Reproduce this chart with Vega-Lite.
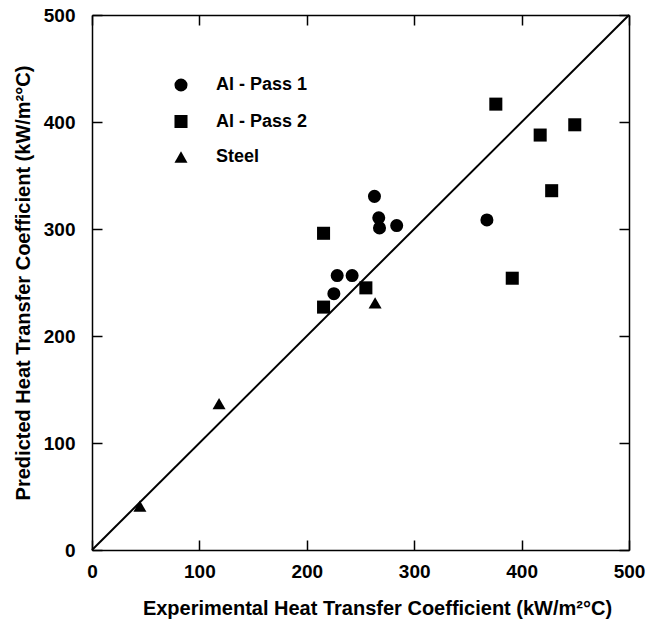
{
  "$schema": "https://vega.github.io/schema/vega-lite/v6.json",
  "width": 537,
  "height": 535,
  "autosize": "none",
  "padding": {"left": 92, "top": 15, "right": 21, "bottom": 82},
  "background": "white",
  "config": {
    "view": {"stroke": null},
    "axis": {
      "domainColor": "black",
      "domainWidth": 1.5,
      "tickColor": "black",
      "tickWidth": 1.5,
      "tickSize": -10,
      "grid": false,
      "labelFlush": false,
      "labelFont": "Liberation Sans",
      "labelFontWeight": "bold",
      "labelFontSize": 19,
      "labelColor": "black",
      "titleFont": "Liberation Sans",
      "titleFontWeight": "bold",
      "titleFontSize": 20,
      "titleColor": "black"
    }
  },
  "datasets": {
    "points": [
      {"series": "Al - Pass 1", "exp": 263, "pred": 330.5},
      {"series": "Al - Pass 1", "exp": 267, "pred": 310.4},
      {"series": "Al - Pass 1", "exp": 267.7, "pred": 301},
      {"series": "Al - Pass 1", "exp": 283.7, "pred": 303.2},
      {"series": "Al - Pass 1", "exp": 228.3, "pred": 256.5},
      {"series": "Al - Pass 1", "exp": 242.2, "pred": 256.5},
      {"series": "Al - Pass 1", "exp": 225.2, "pred": 239.5},
      {"series": "Al - Pass 1", "exp": 367.7, "pred": 308.5},
      {"series": "Al - Pass 2", "exp": 376, "pred": 416.7},
      {"series": "Al - Pass 2", "exp": 449.5, "pred": 397.4},
      {"series": "Al - Pass 2", "exp": 417.3, "pred": 387.8},
      {"series": "Al - Pass 2", "exp": 428, "pred": 335.8},
      {"series": "Al - Pass 2", "exp": 391.3, "pred": 254},
      {"series": "Al - Pass 2", "exp": 255, "pred": 245},
      {"series": "Al - Pass 2", "exp": 215.6, "pred": 296},
      {"series": "Al - Pass 2", "exp": 215.6, "pred": 227},
      {"series": "Steel", "exp": 263.6, "pred": 231},
      {"series": "Steel", "exp": 118.3, "pred": 136.8},
      {"series": "Steel", "exp": 44.6, "pred": 41}
    ],
    "diag": [{"exp": 0, "pred": 0}, {"exp": 500, "pred": 500}]
  },
  "layer": [
    {
      "data": {"name": "diag"},
      "mark": {"type": "line", "color": "black", "strokeWidth": 2},
      "encoding": {
        "x": {"field": "exp", "type": "quantitative", "scale": {"domain": [0, 500], "nice": false},
              "axis": {"orient": "top", "labels": false, "title": null, "values": [0, 100, 200, 300, 400, 500]}},
        "y": {"field": "pred", "type": "quantitative", "scale": {"domain": [0, 500], "nice": false},
              "axis": {"orient": "right", "labels": false, "title": null, "values": [0, 100, 200, 300, 400, 500]}}
      }
    },
    {
      "data": {"name": "points"},
      "mark": {"type": "point", "filled": true, "opacity": 1, "color": "black"},
      "encoding": {
        "x": {"field": "exp", "type": "quantitative", "scale": {"domain": [0, 500], "nice": false},
              "axis": {"orient": "bottom", "values": [0, 100, 200, 300, 400, 500], "labelPadding": 22,
                       "title": "Experimental Heat Transfer Coefficient (kW/m²°C)", "titlePadding": 17, "titleX": 285}},
        "y": {"field": "pred", "type": "quantitative", "scale": {"domain": [0, 500], "nice": false},
              "axis": {"orient": "left", "values": [0, 100, 200, 300, 400, 500], "labelPadding": 27,
                       "title": "Predicted Heat Transfer Coefficient (kW/m²°C)", "titlePadding": 10}},
        "shape": {"field": "series", "type": "nominal",
                  "scale": {"domain": ["Al - Pass 1", "Al - Pass 2", "Steel"], "range": ["circle", "square", "triangle-up"]},
                  "legend": {"orient": "none", "legendX": 80, "legendY": 61, "title": null,
                             "labelFont": "Liberation Sans", "labelFontWeight": "bold", "labelFontSize": 18,
                             "labelColor": "black", "symbolSize": 170, "symbolFillColor": "black",
                             "symbolStrokeColor": "black", "symbolOpacity": 1, "rowPadding": 16.5, "labelOffset": 26}},
        "size": {"value": 170}
      }
    }
  ],
  "resolve": {"axis": {"x": "independent", "y": "independent"}}
}
